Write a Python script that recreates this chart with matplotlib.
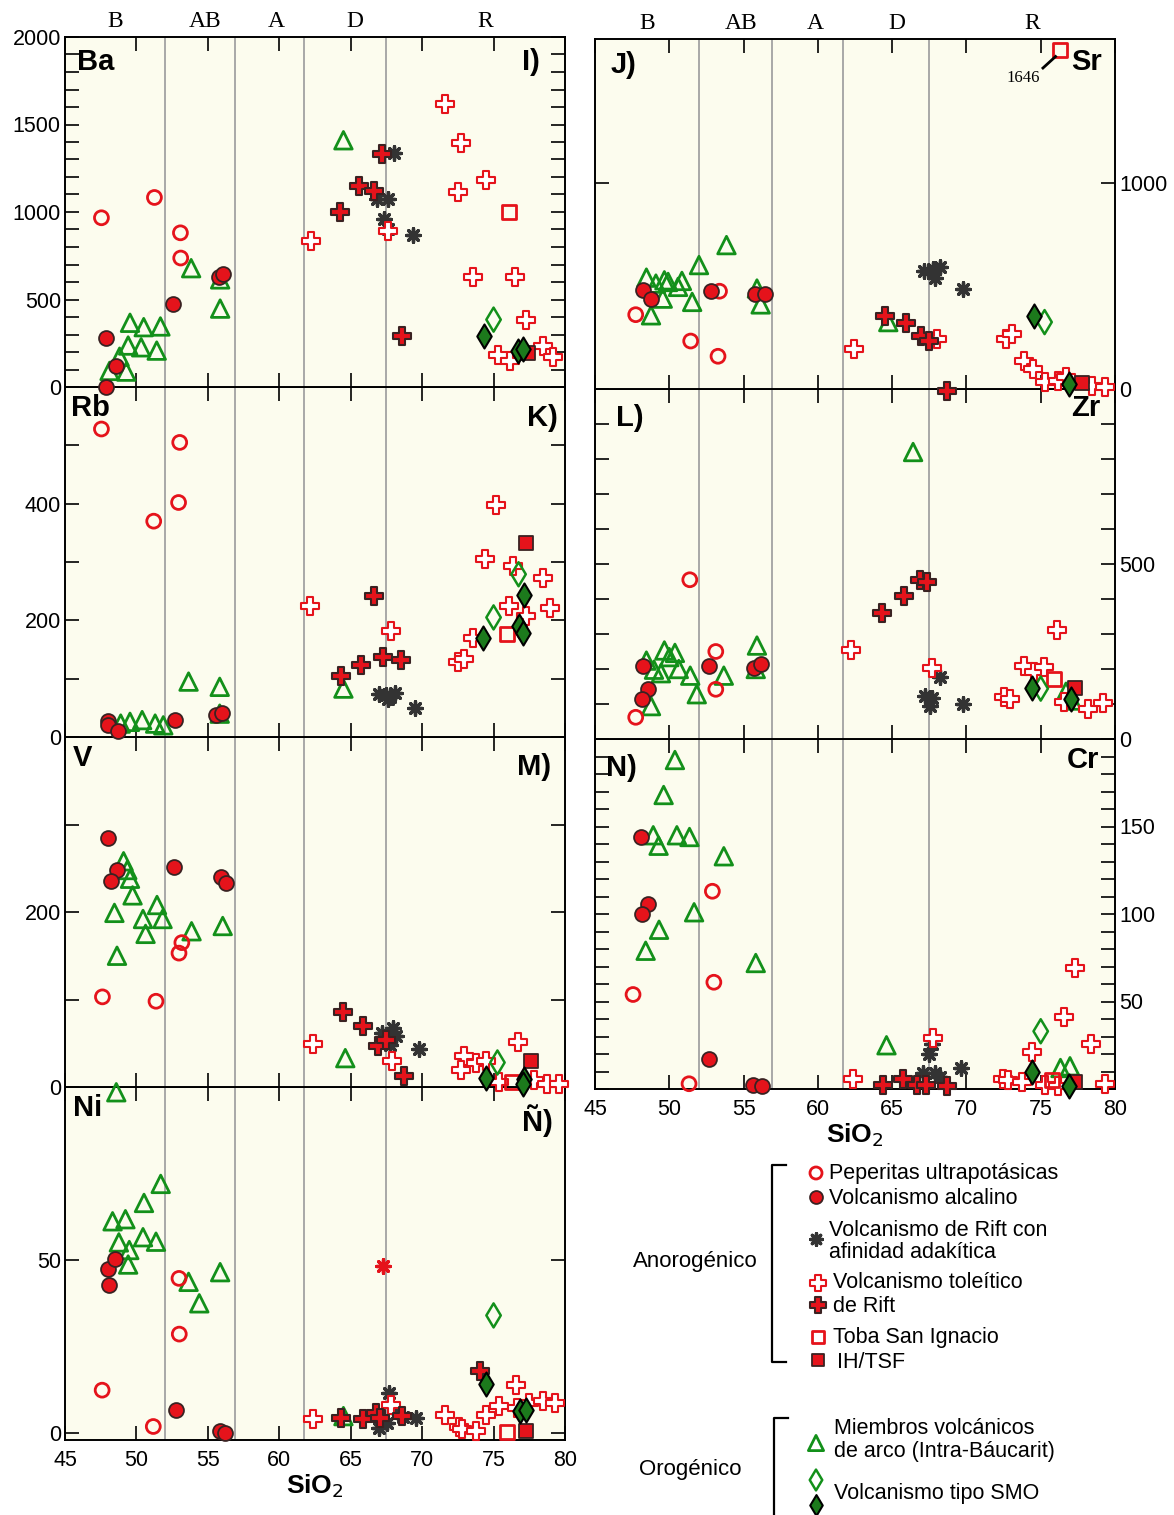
import matplotlib.pyplot as plt

plt.rcParams['font.family'] = ['Liberation Sans', 'DejaVu Sans']

# --- Data: (SiO2 wt%, ppm) pairs ---
# Ba (I)
BA_PEP = [(47.55, 967), (51.26, 1083), (53.08, 881), (53.1, 737)]
BA_ALC = [(47.9, 281), (48.6, 121), (47.9, 2), (52.56, 477), (55.78, 631), (56.04, 644)]
BA_ADK = [(68.0, 1338), (66.82, 1073), (67.6, 1073), (67.34, 958), (67.6, 900), (69.37, 871)]
BA_TOL = [(62.23, 833), (67.6, 894), (71.63, 1615), (72.75, 1396), (72.54, 1115), (74.44, 1183),
          (73.53, 627), (76.49, 631), (77.27, 385), (75.32, 185), (76.18, 150), (78.44, 237), (79.16, 173)]
BA_RIFT = [(67.16, 1333), (64.23, 1002), (65.6, 1146), (66.64, 1121), (68.56, 290)]
BA_TSI = [(76.1, 1000)]
BA_IH = [(77.4, 192)]
BA_ARC = [(48.12, 92), (48.82, 173), (49.29, 88), (49.42, 237), (49.55, 367), (50.51, 342), (50.33, 227),
          (51.42, 208), (51.68, 346), (53.83, 679), (55.86, 615), (55.86, 448), (64.49, 1410)]
BA_SMO_O = [(75.0, 385)]
BA_SMO_F = [(74.36, 290), (76.7, 208), (77.09, 217)]

# Rb (K)
RB_PEP = [(47.55, 528), (53.03, 505), (52.95, 402), (51.21, 370)]
RB_ALC = [(47.99, 27), (48.04, 20), (48.72, 11), (52.72, 29), (55.57, 38), (55.99, 42)]
RB_ADK = [(66.95, 73), (67.47, 72), (67.73, 69), (68.07, 75), (67.6, 66), (69.5, 49)]
RB_TOL = [(62.15, 225), (67.79, 182), (75.14, 397), (74.41, 305), (76.38, 293), (78.44, 273), (76.1, 225),
          (78.98, 222), (77.27, 207), (73.53, 170), (72.54, 129), (72.93, 133)]
RB_RIFT = [(66.64, 242), (64.3, 104), (65.73, 124), (67.29, 138), (68.51, 132)]
RB_TSI = [(75.92, 176)]
RB_IH = [(77.27, 332)]
RB_ARC = [(48.9, 23), (49.55, 26), (50.4, 29), (51.31, 23), (51.88, 20), (53.65, 95), (55.83, 86),
          (55.83, 40), (64.49, 83)]
RB_SMO_O = [(76.75, 279), (75.0, 205)]
RB_SMO_F = [(77.14, 244), (74.28, 169), (76.75, 190), (77.09, 178)]

# V (M)
V_PEP = [(47.62, 103), (51.37, 98), (53.18, 165), (52.98, 153)]
V_ALC = [(47.99, 285), (48.64, 248), (48.25, 235), (52.66, 251), (55.91, 240), (56.3, 233)]
V_ADK = [(67.21, 62), (67.6, 60), (67.94, 67), (68.2, 58), (67.73, 48), (69.76, 44)]
V_TOL = [(62.36, 49), (67.86, 30), (76.7, 51), (72.93, 36), (73.76, 28), (74.49, 30), (72.75, 20),
         (75.4, 6), (77.86, 8), (78.77, 4), (79.55, 4)]
V_RIFT = [(64.49, 86), (65.86, 70), (66.9, 47), (67.47, 54), (68.72, 13)]
V_TSI = [(76.3, 6)]
V_IH = [(77.6, 30)]
V_ARC = [(49.1, 258), (49.36, 248), (49.55, 238), (49.73, 219), (48.46, 199), (50.46, 192), (50.64, 175),
         (51.44, 208), (51.83, 192), (53.86, 178), (56.04, 184), (48.64, 150), (64.62, 33), (48.59, -6)]
V_SMO_O = [(75.27, 28)]
V_SMO_F = [(74.49, 10), (77.14, 9), (77.09, 4)]

# Ni (Ñ)
NI_PEP = [(47.6, 12.4), (52.98, 44.7), (53.0, 28.6), (51.18, 1.9)]
NI_ALC = [(48.04, 47.5), (48.51, 50.4), (48.07, 42.7), (52.74, 6.8), (55.83, 0.5), (56.17, -0.1)]
NI_ADK = [(67.68, 11.6), (66.95, 1.4), (67.52, 3.0), (68.3, 5.9), (69.55, 4.5), (68.64, 4.7)]
NI_ADK_RED = [(67.27, 48.2)]
NI_TOL = [(62.36, 4.0), (67.79, 8.0), (71.63, 5.2), (72.59, 1.8), (72.8, 1.1), (73.79, 0.7), (74.49, 5.2),
          (75.4, 7.8), (76.57, 14.0), (76.65, 7.3), (77.48, 8.7), (78.44, 9.2), (79.3, 8.7)]
NI_RIFT = [(64.3, 4.5), (65.86, 4.0), (66.75, 5.9), (67.08, 4.3), (68.56, 4.9), (74.05, 17.8)]
NI_TSI = [(75.97, 0.2)]
NI_IH = [(77.3, 0.5)]
NI_ARC = [(51.7, 72.0), (50.53, 66.5), (48.33, 61.2), (49.23, 61.8), (48.77, 55.1), (49.5, 52.9),
          (49.42, 48.7), (50.46, 56.6), (51.37, 55.3), (55.86, 46.5), (53.65, 43.7), (54.4, 37.5), (64.49, 4.9)]
NI_SMO_O = [(75.0, 34.0)]
NI_SMO_F = [(74.49, 14.3), (76.88, 6.4), (77.3, 6.8)]

# Sr (J)
SR_PEP = [(47.74, 361), (53.38, 475), (51.44, 233), (53.28, 159)]
SR_ALC = [(48.21, 483), (48.77, 437), (52.82, 476), (55.77, 463), (56.41, 463)]
SR_ADK = [(67.13, 574), (67.77, 585), (68.2, 593), (67.9, 537), (69.79, 488)]
SR_TOL = [(62.44, 192), (68.0, 241), (72.69, 244), (73.08, 268), (73.85, 138), (74.49, 98), (75.31, 33),
          (76.15, 41), (76.67, 57), (78.46, 16), (79.31, 11)]
SR_RIFT = [(64.49, 353), (65.95, 322), (66.92, 255), (67.51, 233), (68.67, -8)]
SR_TSI = [(76.28, 1646)]
SR_IH = [(77.77, 28)]
SR_ARC = [(48.46, 541), (49.1, 512), (49.67, 528), (49.92, 520), (50.59, 496), (50.85, 525), (49.56, 439),
          (51.54, 423), (52.0, 602), (53.85, 699), (55.9, 488), (56.15, 411), (48.77, 358), (64.74, 325)]
SR_SMO_O = [(75.26, 325)]
SR_SMO_F = [(74.54, 353), (76.92, 24)]

# Zr (L)
ZR_PEP = [(51.38, 455), (53.13, 250), (53.13, 142), (47.74, 62)]
ZR_ALC = [(48.21, 210), (48.54, 142), (48.15, 113), (52.69, 208), (55.69, 202), (56.15, 214)]
ZR_ADK = [(67.18, 123), (67.69, 118), (67.56, 94), (68.21, 178), (69.74, 101)]
ZR_TOL = [(62.23, 253), (67.69, 202), (76.1, 311), (73.85, 208), (74.56, 192), (75.21, 205), (72.56, 120),
          (72.95, 115), (76.54, 106), (78.21, 85), (79.18, 104)]
ZR_RIFT = [(64.31, 361), (65.82, 409), (66.87, 455), (67.36, 450)]
ZR_TSI = [(75.9, 171)]
ZR_IH = [(77.31, 147)]
ZR_ARC = [(48.46, 224), (49.67, 253), (50.38, 246), (50.0, 234), (48.97, 198), (49.44, 188), (50.64, 200),
          (51.41, 181), (53.67, 181), (51.85, 128), (48.77, 94), (55.9, 267), (55.82, 200), (66.41, 820),
          (76.7, 135), (77.1, 110)]
ZR_SMO_O = [(75.0, 144)]
ZR_SMO_F = [(74.44, 147), (77.05, 113)]

# Cr (N)
CR_PEP = [(47.56, 54), (53.0, 61), (52.9, 113), (51.33, 3)]
CR_ALC = [(48.08, 144), (48.54, 106), (48.15, 100), (52.64, 17), (55.64, 2.5), (56.23, 1.5)]
CR_ADK = [(67.69, 26), (67.51, 20), (67.05, 9), (67.87, 9), (68.2, 7), (69.62, 12)]
CR_TOL = [(62.38, 6), (67.77, 29), (77.31, 69), (76.54, 41), (78.38, 26), (74.44, 21), (72.44, 6),
          (72.82, 5), (73.72, 4), (75.26, 2.5), (76.15, 1.5), (79.31, 3)]
CR_RIFT = [(64.36, 2.5), (65.72, 6), (66.67, 2.5), (67.31, 2.5), (68.67, 1.5)]
CR_TSI = [(75.77, 5)]
CR_IH = [(77.31, 4)]
CR_ARC = [(50.38, 188), (49.62, 168), (48.92, 145), (49.28, 139), (50.51, 145), (51.36, 144), (53.67, 133),
          (51.67, 101), (49.31, 91), (48.41, 79), (55.82, 72), (64.62, 25), (76.33, 12), (76.97, 13)]
CR_SMO_O = [(75.0, 33)]
CR_SMO_F = [(74.41, 10), (76.92, 1.5)]

# rock-name fields along SiO2
FIELD_LINES = [52.0, 56.9, 61.7, 67.5]
FIELD_NAMES = ['B', 'AB', 'A', 'D', 'R']
FIELD_POS = [48.5, 54.8, 59.8, 65.3, 74.4]
X_TICKS = [45, 50, 55, 60, 65, 70, 75, 80]

# --- Styles ---
RED = '#e5131b'
DARK = '#3a2222'
GREEN = '#13901a'
W, H = 1174, 1515

STYLES = {
    'pep': dict(marker='o', s=100, facecolors='none', edgecolors=RED, linewidths=2.0),
    'alc': dict(marker='o', s=115, facecolors=RED, edgecolors=DARK, linewidths=1.3),
    'adk': dict(marker=(8, 2, 0), s=95, color='#333333', linewidths=2.4),
    'adk_red': dict(marker=(8, 2, 0), s=95, color=RED, linewidths=2.4),
    'tol': dict(marker='P', s=160, facecolors='white', edgecolors=RED, linewidths=1.5),
    'rift': dict(marker='P', s=160, facecolors=RED, edgecolors=DARK, linewidths=1.5),
    'tsi': dict(marker='s', s=100, facecolors='none', edgecolors=RED, linewidths=2.0),
    'ih': dict(marker='s', s=100, facecolors=RED, edgecolors=DARK, linewidths=1.3),
    'arc': dict(marker='^', s=160, facecolors='none', edgecolors=GREEN, linewidths=2.0),
    'smo_o': dict(marker='d', s=150, facecolors='none', edgecolors=GREEN, linewidths=1.8),
    'smo_f': dict(marker='d', s=150, facecolors='#1c7a1c', edgecolors='black', linewidths=1.5),
}
DRAW_ORDER = ['arc', 'pep', 'alc', 'adk', 'adk_red', 'tol', 'rift', 'tsi', 'ih', 'smo_o', 'smo_f']


def series(pep, alc, adk, tol, rift, tsi, ih, arc, smo_o, smo_f, adk_red=()):
    return {'pep': pep, 'alc': alc, 'adk': adk, 'adk_red': adk_red, 'tol': tol, 'rift': rift,
            'tsi': tsi, 'ih': ih, 'arc': arc, 'smo_o': smo_o, 'smo_f': smo_f}


def px_box(left, top, right, bottom):
    return [left / W, 1 - bottom / H, (right - left) / W, (bottom - top) / H]


# box, ylim, yticks, labelled ticks, right labels, element (pos), panel letter (pos), show x labels
PANELS = [
    (px_box(65, 37, 565, 387), (0, 2000), range(0, 2001, 100), [0, 500, 1000, 1500, 2000], False,
     ('Ba', 0.024, 0.93), ('I)', 0.95, 0.93), False, 8,
     series(BA_PEP, BA_ALC, BA_ADK, BA_TOL, BA_RIFT, BA_TSI, BA_IH, BA_ARC, BA_SMO_O, BA_SMO_F)),
    (px_box(65, 387, 565, 737), (0, 600), range(0, 601, 100), [0, 200, 400], False,
     ('Rb', 0.012, 0.94), ('K)', 0.985, 0.91), False, 7,
     series(RB_PEP, RB_ALC, RB_ADK, RB_TOL, RB_RIFT, RB_TSI, RB_IH, RB_ARC, RB_SMO_O, RB_SMO_F)),
    (px_box(65, 737, 565, 1087), (0, 400), range(0, 401, 100), [0, 200], False,
     ('V', 0.016, 0.94), ('M)', 0.972, 0.915), False, 6,
     series(V_PEP, V_ALC, V_ADK, V_TOL, V_RIFT, V_TSI, V_IH, V_ARC, V_SMO_O, V_SMO_F)),
    (px_box(65, 1087, 565, 1440), (-2, 100), [0, 50, 100], [0, 50], False,
     ('Ni', 0.016, 0.94), ('Ñ)', 0.975, 0.905), True, 5,
     series(NI_PEP, NI_ALC, NI_ADK, NI_TOL, NI_RIFT, NI_TSI, NI_IH, NI_ARC, NI_SMO_O, NI_SMO_F, NI_ADK_RED)),
    (px_box(595, 39, 1115, 389), (0, 1700), [0, 1000], [0, 1000], True,
     ('J)', 0.03, 0.926), ('Sr', 0.975, 0.934), False, 8,
     series(SR_PEP, SR_ALC, SR_ADK, SR_TOL, SR_RIFT, SR_TSI, SR_IH, SR_ARC, SR_SMO_O, SR_SMO_F)),
    (px_box(595, 389, 1115, 739), (0, 1000), range(0, 1001, 100), [0, 500], True,
     ('L)', 0.04, 0.917), ('Zr', 0.971, 0.946), False, 7,
     series(ZR_PEP, ZR_ALC, ZR_ADK, ZR_TOL, ZR_RIFT, ZR_TSI, ZR_IH, ZR_ARC, ZR_SMO_O, ZR_SMO_F)),
    (px_box(595, 739, 1115, 1089), (0, 200), range(0, 201, 10), [50, 100, 150], True,
     ('N)', 0.021, 0.917), ('Cr', 0.969, 0.94), True, 6,
     series(CR_PEP, CR_ALC, CR_ADK, CR_TOL, CR_RIFT, CR_TSI, CR_IH, CR_ARC, CR_SMO_O, CR_SMO_F)),
]

fig = plt.figure(figsize=(W / 100, H / 100), dpi=100)
axes = []
for (box, ylim, yticks, ylab, right, elem, letter, xlab, z, data) in PANELS:
    ax = fig.add_axes(box, facecolor='#fcfcee', zorder=z)
    ax.set_xlim(45, 80)
    ax.set_ylim(*ylim)
    for xv in FIELD_LINES:
        ax.axvline(xv, color='#a8a8a8', lw=1.4, zorder=1)
    for key in DRAW_ORDER:
        pts = data[key]
        if len(pts) == 0:
            continue
        xs = [p[0] for p in pts]
        ys = [p[1] for p in pts]
        ax.scatter(xs, ys, zorder=3, clip_on=False, **STYLES[key])
    ax.set_xticks(X_TICKS)
    ax.set_yticks(list(yticks))
    ax.set_yticklabels([str(v) if v in ylab else '' for v in yticks])
    ax.tick_params(axis='both', direction='in', length=10, width=1.2, labelsize=15.5,
                   top=True, bottom=True, left=True, right=True,
                   labelbottom=xlab, labelleft=not right, labelright=right)
    ax.tick_params(axis='y', pad=3)
    ax.tick_params(axis='x', pad=7)
    for sp in ax.spines.values():
        sp.set_linewidth(1.4)
    ax.text(elem[1], elem[2], elem[0], transform=ax.transAxes, fontsize=21, fontweight='bold',
            ha='left' if elem[1] < 0.5 else 'right', va='center', zorder=5)
    ax.text(letter[1], letter[2], letter[0], transform=ax.transAxes, fontsize=21, fontweight='bold',
            ha='left' if letter[1] < 0.5 else 'right', va='center', zorder=5)
    if xlab:
        ax.set_xlabel('SiO$_2$', fontsize=19, fontweight='bold', labelpad=1)
    axes.append(ax)

# rock field names above the top panels
for ax in (axes[0], axes[4]):
    for name, xv in zip(FIELD_NAMES, FIELD_POS):
        ax.text(xv, 1.045, name, transform=ax.get_xaxis_transform(), ha='center', va='center',
                fontsize=17, family=['Liberation Serif', 'DejaVu Serif'])

# off-scale Sr value tag
ax_sr = axes[4]
ax_sr.plot([75.15, 76.0], [1559, 1615], color='black', lw=2, zorder=4)
ax_sr.text(73.8, 1510, '1646', ha='center', va='center', fontsize=12,
           family=['Liberation Serif', 'DejaVu Serif'])

# --- Legend drawn in figure pixel coordinates ---
lg = fig.add_axes([0, 0, 1, 1], zorder=10)
lg.set_xlim(0, W)
lg.set_ylim(H, 0)
lg.axis('off')

lg.plot([786, 772, 772, 786], [1165, 1165, 1362, 1362], color='black', lw=1.6)
lg.plot([788, 774, 774], [1418, 1418, 1530], color='black', lw=1.6, clip_on=False)
lg.text(695, 1262, 'Anorogénico', fontsize=16, ha='center', va='center')
lg.text(690, 1470, 'Orogénico', fontsize=16, ha='center', va='center')

LEGEND_ROWS = [
    ('pep', 816, 1173), ('alc', 816, 1197), ('adk', 816, 1239), ('tol', 818, 1283), ('rift', 818, 1305),
    ('tsi', 818, 1337), ('ih', 818, 1360), ('arc', 816, 1443), ('smo_o', 816, 1480), ('smo_f', 816, 1505),
]
for key, mx, my in LEGEND_ROWS:
    st = dict(STYLES[key])
    st['s'] = st['s'] * 0.75
    lg.scatter([mx], [my], clip_on=False, **st)

LEGEND_TEXT = [
    (829, 1174, 'Peperitas ultrapotásicas'),
    (829, 1198, 'Volcanismo alcalino'),
    (829, 1230, 'Volcanismo de Rift con'),
    (829, 1253, 'afinidad adakítica'),
    (833, 1282, 'Volcanismo toleítico'),
    (833, 1306, 'de Rift'),
    (833, 1338, 'Toba San Ignacio'),
    (837, 1362, 'IH/TSF'),
    (834, 1428, 'Miembros volcánicos'),
    (834, 1452, 'de arco (Intra-Báucarit)'),
    (834, 1494, 'Volcanismo tipo SMO'),
]
for tx, ty, s in LEGEND_TEXT:
    lg.text(tx, ty, s, fontsize=15.5, ha='left', va='center')

fig.savefig('out.png', dpi=100)
